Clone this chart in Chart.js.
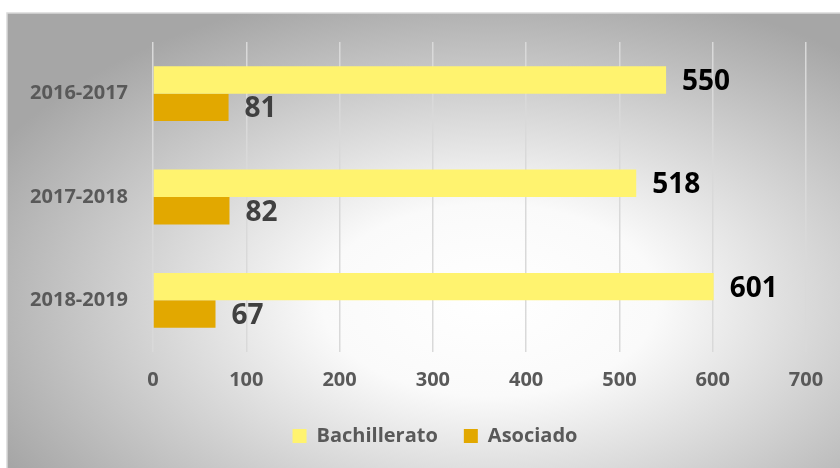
<!DOCTYPE html>
<html>
<head>
<meta charset="utf-8">
<script src="https://cdn.jsdelivr.net/npm/chart.js@4.4.1/dist/chart.umd.min.js"></script>
<style>
  html, body { margin: 0; padding: 0; background: #fff; }
  #wrap { width: 840px; height: 468px; position: relative; }
</style>
</head>
<body>
<div id="wrap"><canvas id="chart" width="840" height="468"></canvas></div>
<script>
// Data
const categories = ['2016-2017', '2017-2018', '2018-2019'];
const bachillerato = [550, 518, 601];
const asociado = [81, 82, 67];
const xTicks = [0, 100, 200, 300, 400, 500, 600, 700];

const FONT = "'Open Sans', Lato, sans-serif";

// Background: white page, gray frame with radial highlight
const bgPlugin = {
  id: 'bg',
  beforeDraw(chart) {
    const ctx = chart.ctx;
    ctx.save();
    ctx.fillStyle = '#ffffff';
    ctx.fillRect(0, 0, chart.width, chart.height);
    const x0 = 7, y0 = 13, w = chart.width - x0 + 2, h = chart.height - y0 + 2;
    ctx.save();
    ctx.beginPath();
    ctx.rect(x0, y0, w, h);
    ctx.clip();
    const cx = 490, cy = 300, sx = 1.75;
    ctx.translate(cx, cy);
    ctx.scale(sx, 1);
    const g = ctx.createRadialGradient(0, 0, 0, 0, 0, 320);
    g.addColorStop(0, '#ffffff');
    g.addColorStop(0.3, '#fafafa');
    g.addColorStop(1, '#a6a6a6');
    ctx.fillStyle = g;
    ctx.fillRect(-cx / sx - 10, -cy - 10, chart.width / sx + 20, chart.height + 20);
    ctx.restore();
    ctx.strokeStyle = '#d9d9d9';
    ctx.lineWidth = 1.5;
    ctx.strokeRect(x0, y0, w, h);
    ctx.restore();
  }
};

// Legend is centred under the plot area + a bit to the right
const legendShift = {
  id: 'legendShift',
  afterLayout(chart) {
    if (chart.legend) chart.legend.left = 64;
  }
};

// Value labels at bar ends
const labelPlugin = {
  id: 'vals',
  afterDatasetsDraw(chart) {
    const ctx = chart.ctx;
    const colors = ['#000000', '#404040'];
    ctx.save();
    ctx.font = 'bold 28px ' + FONT;
    ctx.textBaseline = 'middle';
    ctx.textAlign = 'left';
    chart.data.datasets.forEach((ds, i) => {
      const meta = chart.getDatasetMeta(i);
      ctx.fillStyle = colors[i];
      meta.data.forEach((bar, j) => {
        ctx.fillText(String(ds.data[j]), bar.x + 16, bar.y + 2);
      });
    });
    ctx.restore();
  }
};

new Chart(document.getElementById('chart'), {
  type: 'bar',
  data: {
    labels: categories,
    datasets: [
      { label: 'Bachillerato', data: bachillerato, backgroundColor: '#FFF36F', barPercentage: 1, categoryPercentage: 0.53 },
      { label: 'Asociado', data: asociado, backgroundColor: '#E2A800', barPercentage: 1, categoryPercentage: 0.53 }
    ]
  },
  options: {
    indexAxis: 'y',
    responsive: false,
    animation: false,
    layout: { padding: { left: 20, right: 34, top: 42, bottom: 12 } },
    plugins: {
      legend: {
        position: 'bottom',
        labels: {
          boxWidth: 14, boxHeight: 14, padding: 26,
          color: '#595959',
          font: { family: FONT, size: 20, weight: 'bold' }
        }
      },
      tooltip: { enabled: false }
    },
    scales: {
      x: {
        min: 0, max: 700,
        afterBuildTicks: (s) => { s.ticks = xTicks.map(v => ({ value: v })); },
        grid: { color: '#d9d9d9', lineWidth: 1.5, drawTicks: false },
        border: { display: false },
        ticks: { color: '#595959', padding: 16, font: { family: FONT, size: 20, weight: 'bold' } },
        afterFit: (s) => { s.height = 48; }
      },
      y: {
        grid: { display: false },
        border: { display: false },
        ticks: { color: '#595959', padding: 17, font: { family: FONT, size: 20, weight: 'bold' } },
        afterFit: (s) => { s.width = 133; }
      }
    }
  },
  plugins: [bgPlugin, legendShift, labelPlugin]
});
</script>
</body>
</html>
